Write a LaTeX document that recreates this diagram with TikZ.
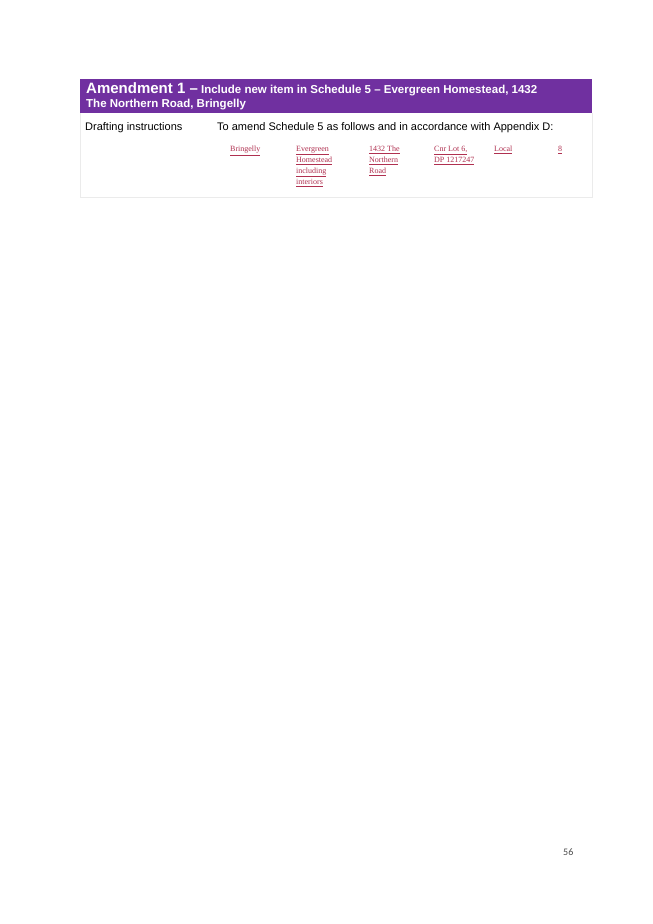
\documentclass[tikz,border=0pt]{standalone}
\usepackage{fontspec}
\setmainfont{Liberation Sans}
\newfontfamily\tnrfont{Liberation Serif}
\newfontfamily\calfont{Carlito}
\definecolor{purp}{HTML}{7030A0}
\definecolor{redt}{HTML}{B03050}
\tikzset{cell/.style={anchor=north west,inner sep=0pt,align=left,text=redt,font=\tnrfont\fontsize{8}{11}\selectfont}}
\newcommand{\myul}[1]{\underline{#1}}
\begin{document}
\begin{tikzpicture}[x=1pt,y=-1pt]
\useasboundingbox[fill=white] (0,0) rectangle (653,924);
\fill[purp] (80,79) rectangle (592,113);
\draw[black!8] (80,113) -- (80,197) -- (592,197) -- (592,113);
\node[anchor=base west,inner sep=0pt,text=white,font=\bfseries\fontsize{11.5}{14}\selectfont] (t1) at (86,93) {{\fontsize{15}{16}\selectfont Amendment 1 –} Include new item in Schedule 5 – Evergreen Homestead, 1432};
\node[anchor=base west,inner sep=0pt,text=white,font=\bfseries\fontsize{11.5}{14}\selectfont] (t2) at (86,107) {The Northern Road, Bringelly};
\node[anchor=base west,inner sep=0pt,font=\fontsize{11}{13}\selectfont] (d) at (85,130) {Drafting instructions};
\node[anchor=base west,inner sep=0pt,font=\fontsize{11}{13}\selectfont] (e) at (217,130) {To amend Schedule 5 as follows and in accordance with Appendix D:};
\node[cell] (c1) at (230,146) {\myul{Bringelly}};
\node[cell] (c2) at (296,146) {\myul{Evergreen}\\\myul{Homestead}\\\myul{including}\\\myul{interiors}};
\node[cell] (c3) at (369,146) {\myul{1432 The}\\\myul{Northern}\\\myul{Road}};
\node[cell] (c4) at (434,146) {\myul{Cnr Lot 6,}\\\myul{DP 1217247}};
\node[cell] (c5) at (494,146) {\myul{Local}};
\node[cell] (c6) at (558,146) {\myul{8}};
\node[anchor=base west,inner sep=0pt,text=black!70,font=\calfont\fontsize{10}{12}\selectfont] (p) at (563,855) {56};
\end{tikzpicture}
\end{document}
